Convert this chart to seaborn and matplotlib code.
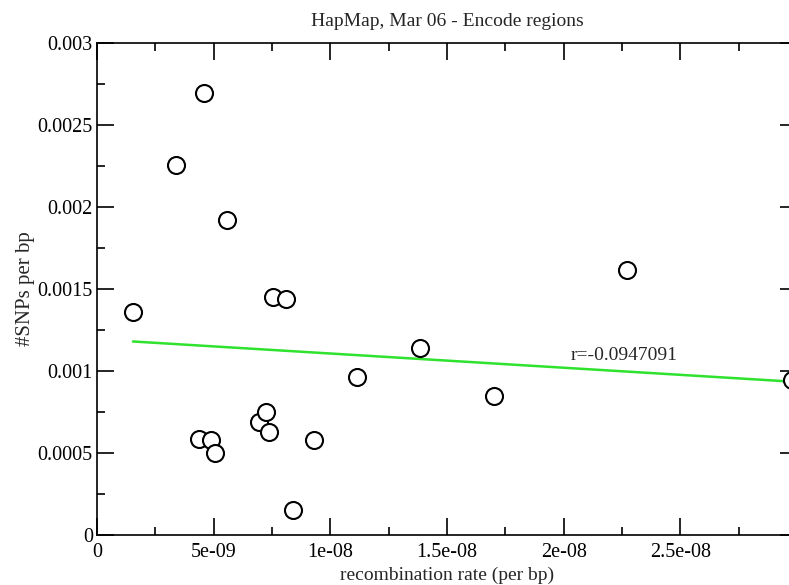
import numpy as np
import pandas as pd
import matplotlib
matplotlib.use("Agg")
import matplotlib.pyplot as plt
from matplotlib.ticker import MultipleLocator
import seaborn as sns

# recombination rate vs SNP density
recomb_rate = [1.54e-9, 3.38e-9, 4.58e-9, 5.57e-9, 7.54e-9, 8.10e-9, 4.37e-9,
               4.88e-9, 5.06e-9, 6.94e-9, 7.24e-9, 7.37e-9, 9.30e-9, 8.40e-9,
               1.114e-8, 1.384e-8, 1.70e-8, 2.271e-8, 2.98e-8]
snps_per_bp = [0.00136, 0.002256, 0.002695, 0.00192, 0.00145, 0.00144, 0.000585,
               0.00058, 0.0005, 0.00069, 0.00075, 0.000628, 0.00058, 0.000152,
               0.000963, 0.00114, 0.000848, 0.001616, 0.000945]

# regression line end points and label
fit_x = [1.54e-9, 2.98e-8]
fit_y = [0.00118, 0.000935]
r_label = "r=-0.0947091"

data = pd.DataFrame({"rate": recomb_rate, "snps": snps_per_bp})
fit = pd.DataFrame({"rate": fit_x, "snps": fit_y})

sns.set_style("ticks")
plt.rcParams["font.family"] = ["Liberation Serif", "DejaVu Serif"]

fig = plt.figure(figsize=(7.89, 5.85), dpi=100)
ax = fig.add_axes([97 / 789, 50 / 585, 700 / 789, 492 / 585])

sns.lineplot(data=fit, x="rate", y="snps", color="#2ee22e", linewidth=1.8, ax=ax)
sns.scatterplot(data=data, x="rate", y="snps", s=150, facecolor="white",
                edgecolor="black", linewidth=1.5, ax=ax, zorder=3, clip_on=False)

ax.text(2.03e-8, 0.00107, r_label, fontsize=14)

ax.set_xlim(0, 3e-8)
ax.set_ylim(0, 0.003)
ax.xaxis.set_minor_locator(MultipleLocator(2.5e-9))
ax.yaxis.set_minor_locator(MultipleLocator(0.00025))
ax.set_xticks([0, 5e-9, 1e-8, 1.5e-8, 2e-8, 2.5e-8])
ax.set_xticklabels(["0", "5e-09", "1e-08", "1.5e-08", "2e-08", "2.5e-08"])
ax.set_yticks([0, 0.0005, 0.001, 0.0015, 0.002, 0.0025, 0.003])
ax.set_yticklabels(["0", "0.0005", "0.001", "0.0015", "0.002", "0.0025", "0.003"])

ax.tick_params(which="both", direction="in", top=True, right=True,
               colors="black", labelsize=14.5, width=1.2)
ax.tick_params(which="major", length=12)
ax.tick_params(axis="x", which="major", pad=6)
ax.tick_params(axis="y", which="major", pad=3)
ax.tick_params(which="minor", length=6)
for sp in ax.spines.values():
    sp.set_linewidth(1.2)
    sp.set_color("black")

ax.set_xlabel("recombination rate (per bp)", fontsize=14, labelpad=3)
ax.set_ylabel("#SNPs per bp", fontsize=15, labelpad=2)
ax.set_title("HapMap, Mar 06 - Encode regions", fontsize=14, pad=12)

fig.savefig("out.png", dpi=100)
